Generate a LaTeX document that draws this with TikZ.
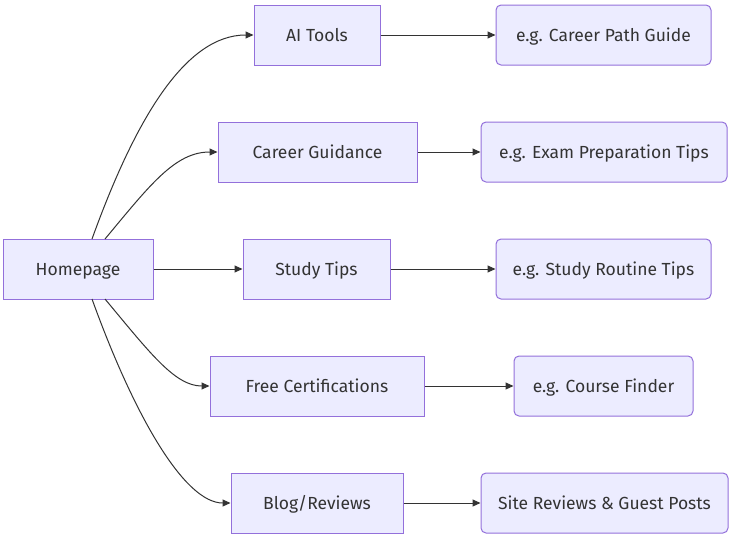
\documentclass[tikz,border=0pt]{standalone}
\usepackage{fontspec}
\setmainfont{Fira Sans}
\usetikzlibrary{arrows.meta}
\definecolor{nodefill}{HTML}{ECECFF}
\definecolor{nodeline}{HTML}{9370DB}
\definecolor{edgecol}{HTML}{333333}
\tikzset{
  box/.style={draw=nodeline, fill=nodefill, line width=1pt, text=edgecol,
    font=\fontsize{17.5}{21}\selectfont, inner sep=0pt, anchor=center,
    text height=12pt, text depth=0pt},
  rbox/.style={box, rounded corners=5pt},
  conn/.style={draw=edgecol, line width=1pt, -{Triangle[length=8pt,width=7pt]}}
}
\begin{document}
\begin{tikzpicture}[x=1pt,y=-1pt]
\useasboundingbox (0,0) rectangle (732,541);
% left column
\node[box, minimum width=150pt, minimum height=60pt] (home) at (78,269) {Homepage};
% middle column
\node[box, minimum width=126pt, minimum height=60pt] (ai) at (317,35) {AI Tools};
\node[box, minimum width=199pt, minimum height=60pt] (cg) at (317.5,152) {Career Guidance};
\node[box, minimum width=147pt, minimum height=60pt] (st) at (316.5,269) {Study Tips};
\node[box, minimum width=214pt, minimum height=60pt] (fc) at (317,386) {Free Certifications};
\node[box, minimum width=172pt, minimum height=60pt] (br) at (317,503) {Blog/Reviews};
% right column
\node[rbox, minimum width=215pt, minimum height=60pt] (cpg) at (603.5,35) {e.g. Career Path Guide};
\node[rbox, minimum width=246pt, minimum height=60pt] (ept) at (604,152) {e.g. Exam Preparation Tips};
\node[rbox, minimum width=215pt, minimum height=60pt] (srt) at (603.5,269) {e.g. Study Routine Tips};
\node[rbox, minimum width=179pt, minimum height=60pt] (cf) at (603.5,386) {e.g. Course Finder};
\node[rbox, minimum width=247pt, minimum height=60pt] (sr) at (604.5,503) {Site Reviews \& Guest Posts};
% curved connectors from Homepage
\coordinate (h1) at (92,239);
\coordinate (h2) at (105,239);
\coordinate (h4) at (105,299);
\coordinate (h5) at (92,299);
\draw[conn] (h1) .. controls (135,120) and (185,35) .. (ai.west);
\draw[conn] (h2) .. controls (150,185) and (175,152) .. (cg.west);
\draw[conn] (home.east) -- (st.west);
\draw[conn] (h4) .. controls (150,353) and (175,386) .. (fc.west);
\draw[conn] (h5) .. controls (135,418) and (185,503) .. (br.west);
% straight connectors
\draw[conn] (ai.east) -- (cpg.west);
\draw[conn] (cg.east) -- (ept.west);
\draw[conn] (st.east) -- (srt.west);
\draw[conn] (fc.east) -- (cf.west);
\draw[conn] (br.east) -- (sr.west);
\end{tikzpicture}
\end{document}
